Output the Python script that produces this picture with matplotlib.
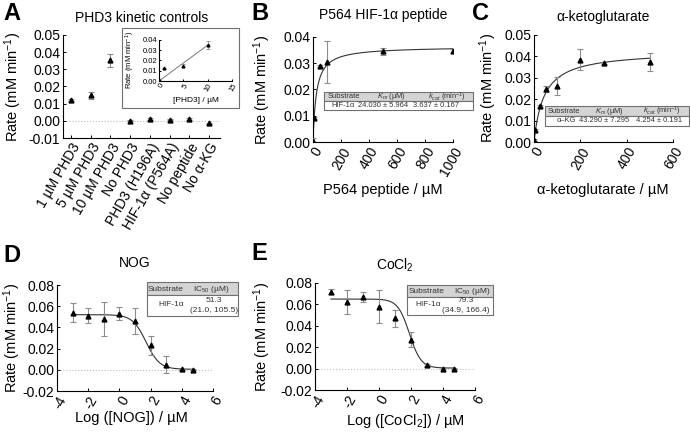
import numpy as np
import matplotlib
matplotlib.use('Agg')
import matplotlib.pyplot as plt
from matplotlib.patches import Rectangle

plt.rcParams['font.family'] = ['Liberation Sans', 'DejaVu Sans']
plt.rcParams['mathtext.fontset'] = 'custom'
plt.rcParams['mathtext.rm'] = 'Liberation Sans'
plt.rcParams['mathtext.it'] = 'Liberation Sans:italic'
plt.rcParams['axes.unicode_minus'] = False

# A: controls
ctrl_labels = ['1 µM PHD3', '5 µM PHD3', '10 µM PHD3', 'No PHD3', 'PHD3 (H196A)',
               'HIF-1α (P564A)', 'No peptide', 'No α-KG']
ctrl_rate = [0.0122, 0.0148, 0.0352, 0.0000, 0.0008, 0.0005, 0.0010, -0.0015]
ctrl_err = [0.0006, 0.0018, 0.0040, 0.0003, 0.0006, 0.0003, 0.0004, 0.0005]

# A inset: rate vs [PHD3]
phd3_conc = [0, 0, 1, 5, 10]
phd3_rate = [0.0000, 0.0008, 0.0122, 0.0148, 0.0352]
phd3_err = [0.0003, 0.0003, 0.0006, 0.0015, 0.0040]
phd3_slope = 0.0035

# B: P564 peptide Michaelis-Menten
pep_conc = [0, 5, 50, 100, 500, 1000]
pep_rate = [0.0005, 0.0092, 0.0290, 0.0303, 0.0345, 0.0348]
pep_err = [0.0010, 0.0005, 0.0005, 0.0080, 0.0012, 0.0008]
pep_km, pep_kcat = 24.030, 3.637

# C: alpha-KG Michaelis-Menten
akg_conc = [0, 5, 25, 50, 100, 200, 300, 500]
akg_rate = [0.0010, 0.0055, 0.0170, 0.0248, 0.0262, 0.0385, 0.0370, 0.0372]
akg_err = [0.0005, 0.0005, 0.0005, 0.0015, 0.0042, 0.0050, 0.0005, 0.0042]
akg_km, akg_kcat = 43.290, 4.254
enzyme_mM = 0.01

# D: NOG inhibition
nog_logc = [-3, -2, -1, 0, 1, 2, 3, 4, 4.7]
nog_rate = [0.054, 0.051, 0.048, 0.053, 0.046, 0.023, 0.005, 0.0005, 0.0]
nog_err = [0.009, 0.007, 0.016, 0.006, 0.012, 0.009, 0.008, 0.0005, 0.0005]
nog_top, nog_bottom, nog_ic50, nog_hill = 0.052, 0.0005, 51.3, 1.0

# E: CoCl2 inhibition
co_logc = [-3, -2, -1, 0, 1, 2, 3, 4, 4.7]
co_rate = [0.072, 0.062, 0.067, 0.058, 0.047, 0.027, 0.003, 0.0, 0.0]
co_err = [0.002, 0.011, 0.005, 0.015, 0.008, 0.007, 0.001, 0.0005, 0.0005]
co_top, co_bottom, co_ic50, co_hill = 0.065, 0.0005, 79.3, 1.2

W, H = 690, 440
fig = plt.figure(figsize=(6.9, 4.4), dpi=100)


def ax_px(left, top, right, bottom):
    return fig.add_axes([left / W, 1 - bottom / H, (right - left) / W, (bottom - top) / H])


def ftxt(x, y, s, **kw):
    fig.text(x / W, 1 - y / H, s, **kw)


def style(ax, fs=10):
    for s in ['top', 'right']:
        ax.spines[s].set_visible(False)
    for s in ['left', 'bottom']:
        ax.spines[s].set_linewidth(0.8)
    ax.tick_params(direction='in', length=2.5, width=0.7, labelsize=fs, pad=2)


def points(ax, x, y, e, ms=3.5):
    ax.errorbar(x, y, yerr=e, fmt='^', color='black', ms=ms, ecolor='#8c8c8c',
                elinewidth=0.8, capsize=2, capthick=0.8, zorder=3)


def table(x0, y0, x1, ymid, y1, header, row, fs=5.2):
    fig.patches.append(Rectangle((x0 / W, 1 - ymid / H), (x1 - x0) / W, (ymid - y0) / H,
                                 transform=fig.transFigure, facecolor='#d4d4d4',
                                 edgecolor='#707070', lw=0.8, zorder=10))
    fig.patches.append(Rectangle((x0 / W, 1 - y1 / H), (x1 - x0) / W, (y1 - ymid) / H,
                                 transform=fig.transFigure, facecolor='white',
                                 edgecolor='#707070', lw=0.8, zorder=10))
    for xx, s in header:
        ftxt(xx, (y0 + ymid) / 2 + 0.5, s, ha='center', va='center', fontsize=fs,
             color='#333333', zorder=11)
    for xx, yy, s in row:
        ftxt(xx, yy, s, ha='center', va='center', fontsize=fs, color='#333333', zorder=11)


ylab = 'Rate (mM min$^{-1}$)'

# ---- A ----
axA = ax_px(63, 35, 220, 138)
style(axA)
axA.axhline(0, color='#bbbbbb', ls=':', lw=0.8, zorder=1)
points(axA, range(len(ctrl_rate)), ctrl_rate, ctrl_err)
axA.set_xlim(-0.4, 7.55)
axA.set_ylim(-0.01, 0.05)
axA.set_yticks(np.arange(-0.01, 0.051, 0.01))
axA.yaxis.set_major_formatter(matplotlib.ticker.FormatStrFormatter('%.2f'))
axA.set_xticks(range(len(ctrl_labels)))
axA.set_xticklabels(ctrl_labels, rotation=60, ha='right', rotation_mode='anchor', fontsize=10)
axA.set_title('PHD3 kinetic controls', fontsize=10, pad=9)
ftxt(13, 87, ylab, rotation=90, ha='center', va='center', fontsize=10.5)
ftxt(3, 13, 'A', fontsize=17, fontweight='bold', va='center')

# inset
fig.patches.append(Rectangle((122 / W, 1 - 108 / H), 117 / W, 80 / H, transform=fig.transFigure,
                             facecolor='white', edgecolor='#707070', lw=0.8, zorder=2))
axI = ax_px(159, 40, 232, 81)
axI.set_zorder(5)
style(axI, fs=5.5)
xx = np.array([0, 10])
axI.plot(xx, phd3_slope * xx, color='#777777', lw=0.7)
axI.errorbar(phd3_conc, phd3_rate, yerr=phd3_err, fmt='^', color='black', ms=2,
             ecolor='#8c8c8c', elinewidth=0.6, capsize=1.5, capthick=0.6)
axI.set_xlim(0, 15)
axI.set_ylim(0, 0.04)
axI.set_yticks(np.arange(0, 0.041, 0.01))
axI.yaxis.set_major_formatter(matplotlib.ticker.FormatStrFormatter('%.2f'))
axI.set_xticks([0, 5, 10, 15])
axI.set_xticklabels(['0', '5', '10', '15'], rotation=60, ha='right', rotation_mode='anchor')
axI.tick_params(length=1.5, pad=1)
ftxt(196, 100, '[PHD3] / µM', ha='center', va='center', fontsize=6, zorder=6)
ftxt(130, 60, ylab, rotation=90, ha='center', va='center', fontsize=5.5, zorder=6)

# ---- B ----
axB = ax_px(313, 37, 453, 142)
style(axB)
s = np.linspace(0, 1000, 500)
axB.plot(s, pep_kcat * enzyme_mM * s / (pep_km + s), color='#333333', lw=0.8)
points(axB, pep_conc, pep_rate, pep_err)
axB.set_xlim(0, 1000)
axB.set_ylim(0, 0.04)
axB.set_yticks(np.arange(0, 0.041, 0.01))
axB.yaxis.set_major_formatter(matplotlib.ticker.FormatStrFormatter('%.2f'))
axB.set_xticks(range(0, 1001, 200))
axB.tick_params(axis='x', labelrotation=60)
for t in axB.get_xticklabels():
    t.set_ha('right'); t.set_rotation_mode('anchor')
axB.set_title('P564 HIF-1α peptide', fontsize=10, pad=13)
ftxt(383, 190, 'P564 peptide / µM', ha='center', va='center', fontsize=10.5)
ftxt(262, 90, ylab, rotation=90, ha='center', va='center', fontsize=10.5)
ftxt(251, 13, 'B', fontsize=17, fontweight='bold', va='center')
table(324, 92, 473, 101, 110,
      [(344, 'Substrate'), (391, '$K_m$ (µM)'), (447, '$k_{cat}$ (min$^{-1}$)')],
      [(343, 105.5, 'HIF-1α'), (383, 105.5, '%.3f ± %.3f' % (pep_km, 5.964)),
       (436, 105.5, '%.3f ± %.3f' % (pep_kcat, 0.167))], fs=5.4)

# ---- C ----
axC = ax_px(534, 35, 673, 142)
style(axC)
s = np.linspace(0, 500, 500)
axC.plot(s, akg_kcat * enzyme_mM * s / (akg_km + s), color='#333333', lw=0.8)
points(axC, akg_conc, akg_rate, akg_err)
axC.set_xlim(0, 600)
axC.set_ylim(0, 0.05)
axC.set_yticks(np.arange(0, 0.051, 0.01))
axC.yaxis.set_major_formatter(matplotlib.ticker.FormatStrFormatter('%.2f'))
axC.set_xticks(range(0, 601, 200))
axC.tick_params(axis='x', labelrotation=60)
for t in axC.get_xticklabels():
    t.set_ha('right'); t.set_rotation_mode('anchor')
axC.set_title('α-ketoglutarate', fontsize=10, pad=10)
ftxt(603, 190, 'α-ketoglutarate / µM', ha='center', va='center', fontsize=10.5)
ftxt(488, 88, ylab, rotation=90, ha='center', va='center', fontsize=10.5)
ftxt(472, 13, 'C', fontsize=17, fontweight='bold', va='center')
table(545, 106, 689, 116, 126,
      [(564, 'Substrate'), (609, '$K_m$ (µM)'), (662, '$k_{cat}$ (min$^{-1}$)')],
      [(566, 121, 'α–KG'), (604, 121, '%.3f ± %.3f' % (akg_km, 7.295)),
       (659, 121, '%.3f ± %.3f' % (akg_kcat, 0.191))], fs=5.4)


# ---- D / E ----
def dose_panel(ax, logc, rate, err, top, bottom, ic50, hill, title, pad):
    style(ax)
    ax.axhline(0, color='#bbbbbb', ls=':', lw=0.8, zorder=1)
    xs = np.linspace(min(logc), max(logc), 300)
    ax.plot(xs, bottom + (top - bottom) / (1 + 10 ** ((xs - np.log10(ic50)) * hill)),
            color='#333333', lw=0.8)
    points(ax, logc, rate, err)
    ax.set_xlim(-4, 6)
    ax.set_ylim(-0.02, 0.08)
    ax.set_yticks(np.arange(-0.02, 0.081, 0.02))
    ax.yaxis.set_major_formatter(matplotlib.ticker.FormatStrFormatter('%.2f'))
    ax.set_xticks(range(-4, 7, 2))
    ax.tick_params(axis='x', labelrotation=60)
    for t in ax.get_xticklabels():
        t.set_ha('right'); t.set_rotation_mode('anchor')
    ax.set_title(title, fontsize=10, pad=pad)


axD = ax_px(57, 285, 213, 391)
dose_panel(axD, nog_logc, nog_rate, nog_err, nog_top, nog_bottom, nog_ic50, nog_hill, 'NOG', 13)
ftxt(131, 418, 'Log ([NOG]) / µM', ha='center', va='center', fontsize=10.5)
ftxt(12, 338, ylab, rotation=90, ha='center', va='center', fontsize=10.5)
ftxt(3, 256, 'D', fontsize=17, fontweight='bold', va='center')
table(147, 282, 238, 295, 316,
      [(166, 'Substrate'), (211, 'IC$_{50}$ (µM)')],
      [(171, 304, 'HIF-1α'), (214, 300, '%.1f' % nog_ic50), (214, 310, '(21.0, 105.5)')],
      fs=6)

axE = ax_px(315, 283, 475, 390)
dose_panel(axE, co_logc, co_rate, co_err, co_top, co_bottom, co_ic50, co_hill, 'CoCl$_2$', 10)
ftxt(405, 421, 'Log ([CoCl$_2$]) / µM', ha='center', va='center', fontsize=10.5)
ftxt(262, 337, ylab, rotation=90, ha='center', va='center', fontsize=10.5)
ftxt(251, 254, 'E', fontsize=17, fontweight='bold', va='center')
table(407, 285, 493, 297, 315,
      [(427, 'Substrate'), (472, 'IC$_{50}$ (µM)')],
      [(428, 304, 'HIF-1α'), (466, 300, '%.1f' % co_ic50), (466, 310, '(34.9, 166.4)')],
      fs=6)

fig.savefig('out.png', dpi=100)
